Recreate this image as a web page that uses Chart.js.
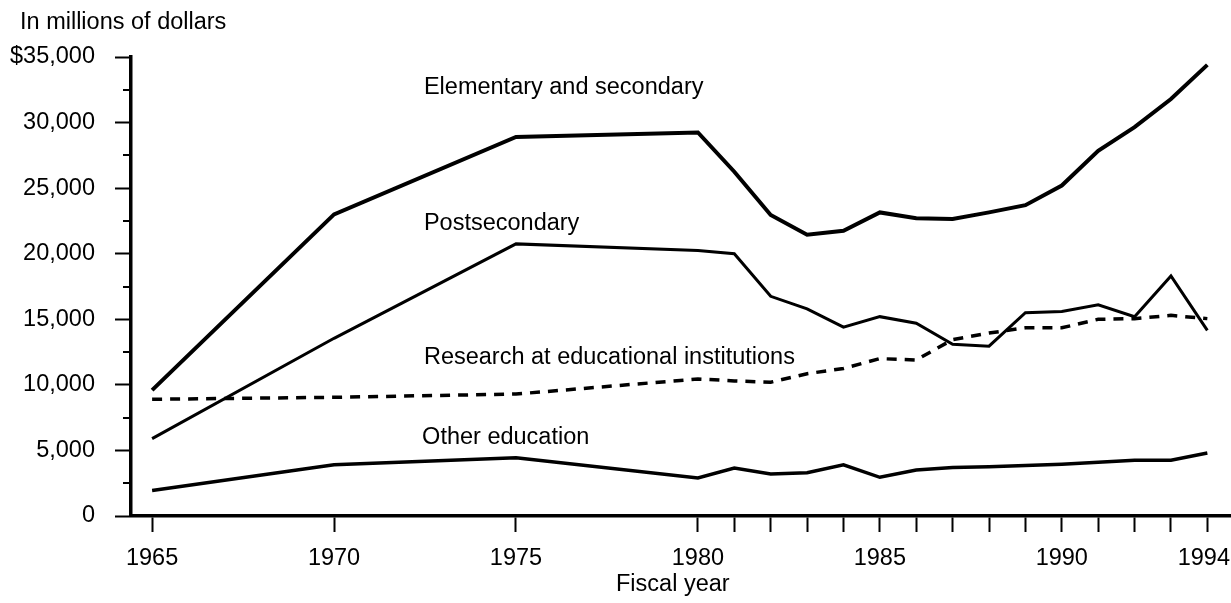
<!DOCTYPE html>
<html>
<head>
<meta charset="utf-8">
<script src="https://cdn.jsdelivr.net/npm/chart.js@4/dist/chart.umd.min.js"></script>
<style>
  html, body { margin: 0; padding: 0; background: #fff; }
  #wrap { width: 1231px; height: 603px; position: relative; }
</style>
</head>
<body>
<div id="wrap"><canvas id="c" width="1231" height="603"></canvas></div>
<script>
// ---- Data (millions of dollars) ----
const years = [1965, 1970, 1975, 1980, 1981, 1982, 1983, 1984, 1985, 1986, 1987, 1988, 1989, 1990, 1991, 1992, 1993, 1994];
const elementarySecondary = [9600, 23000, 28900, 29250, 26250, 22950, 21450, 21750, 23150, 22700, 22650, 23150, 23700, 25200, 27850, 29650, 31800, 34400];
const postsecondary = [5900, 13550, 20750, 20250, 20000, 16750, 15800, 14400, 15200, 14700, 13100, 12950, 15500, 15600, 16100, 15200, 18300, 14150];
const research = [8900, 9050, 9300, 10450, 10300, 10200, 10850, 11250, 12000, 11900, 13450, 13950, 14350, 14350, 15000, 15050, 15300, 15050];
const otherEducation = [1950, 3900, 4450, 2900, 3650, 3200, 3300, 3900, 2950, 3500, 3700, 3750, 3850, 3950, 4100, 4250, 4250, 4800];

const seriesNames = ["Elementary and secondary", "Postsecondary", "Research at educational institutions", "Other education"];
const xTickYears = [1965, 1970, 1975, 1980, 1981, 1982, 1983, 1984, 1985, 1986, 1987, 1988, 1989, 1990, 1991, 1992, 1993, 1994];
const xLabelYears = [1965, 1970, 1975, 1980, 1985, 1990];
const xLastLabelYear = 1994;

const FONT = '"Liberation Sans", Arial, Helvetica, sans-serif';
const FS = 23.5;

function pts(arr) { return years.map((y, i) => ({ x: y, y: arr[i] })); }

// label anchors (in data units), drawn through the scales
const labelAnchors = [
  { text: seriesNames[0], x: 1972.47, y: 32640 },
  { text: seriesNames[1], x: 1972.47, y: 22340 },
  { text: seriesNames[2], x: 1972.47, y: 12120 },
  { text: seriesNames[3], x: 1972.42, y: 5950 }
];

const textPlugin = {
  id: 'texts',
  afterDraw(chart) {
    const ctx = chart.ctx;
    const xs = chart.scales.x, ys = chart.scales.y;
    ctx.save();
    ctx.fillStyle = '#000';
    ctx.font = FS + 'px ' + FONT;
    ctx.textBaseline = 'middle';
    ctx.textAlign = 'left';
    labelAnchors.forEach(a => {
      ctx.fillText(a.text, xs.getPixelForValue(a.x), ys.getPixelForValue(a.y));
    });
    // unit label and axis title
    ctx.fillText('In millions of dollars', 20, 23);
    ctx.fillText('Fiscal year', 616, 585);
    // last x label, kept inside the canvas, same row as the library's tick labels
    const w = ctx.measureText(String(xLastLabelYear)).width;
    const lx = Math.min(xs.getPixelForValue(xLastLabelYear) - w / 2, chart.width - w - 1);
    ctx.fillText(String(xLastLabelYear), lx, xs.top + 16 + 12 + FS * 1.2 / 2);
    // minor y ticks
    ctx.strokeStyle = '#000';
    ctx.lineWidth = 2;
    ys.ticks.forEach(t => {
      if (t.value % 5000 !== 0) {
        const py = Math.round(ys.getPixelForValue(t.value));
        ctx.beginPath();
        ctx.moveTo(ys.right, py);
        ctx.lineTo(ys.right - 8, py);
        ctx.stroke();
      }
    });
    ctx.restore();
  }
};

new Chart(document.getElementById('c'), {
  type: 'line',
  data: {
    datasets: [
      { label: seriesNames[0], data: pts(elementarySecondary), borderColor: '#000', borderWidth: 4, pointRadius: 0, tension: 0 },
      { label: seriesNames[1], data: pts(postsecondary), borderColor: '#000', borderWidth: 3, pointRadius: 0, tension: 0 },
      { label: seriesNames[2], data: pts(research), borderColor: '#000', borderWidth: 3.5, borderDash: [10, 8], pointRadius: 0, tension: 0 },
      { label: seriesNames[3], data: pts(otherEducation), borderColor: '#000', borderWidth: 3.5, pointRadius: 0, tension: 0 }
    ]
  },
  options: {
    responsive: false,
    animation: false,
    events: [],
    layout: { padding: { top: 57, right: 0, left: 0, bottom: 0 } },
    plugins: { legend: { display: false }, tooltip: { enabled: false }, title: { display: false } },
    scales: {
      x: {
        type: 'linear',
        min: 1964.42,
        max: 1994.65,
        afterBuildTicks(scale) { scale.ticks = xTickYears.map(v => ({ value: v })); },
        afterFit(scale) { scale.height = 87; scale.paddingLeft = 0; scale.paddingRight = 0; },
        ticks: {
          autoSkip: false,
          maxRotation: 0,
          padding: 12,
          color: '#000',
          font: { family: FONT, size: FS },
          callback: (v) => xLabelYears.includes(v) ? String(v) : ''
        },
        grid: { drawOnChartArea: false, drawTicks: true, tickLength: 16, tickWidth: 2, tickColor: '#000' },
        border: { display: true, color: '#000', width: 3.5 }
      },
      y: {
        min: 0,
        max: 35000,
        afterFit(scale) { scale.width = 131; scale.paddingTop = 0; scale.paddingBottom = 0; },
        ticks: {
          stepSize: 2500,
          autoSkip: false,
          padding: 20,
          color: '#000',
          font: { family: FONT, size: FS },
          callback: (v) => v % 5000 !== 0 ? '' : (v === 35000 ? '$35,000' : v.toLocaleString('en-US'))
        },
        grid: {
          drawOnChartArea: false, drawTicks: true, tickLength: 16, tickWidth: 2,
          tickColor: (c) => (c.tick && c.tick.value % 5000 === 0) ? '#000' : 'rgba(0,0,0,0)'
        },
        border: { display: true, color: '#000', width: 3.5 }
      }
    }
  },
  plugins: [textPlugin]
});
</script>
</body>
</html>
